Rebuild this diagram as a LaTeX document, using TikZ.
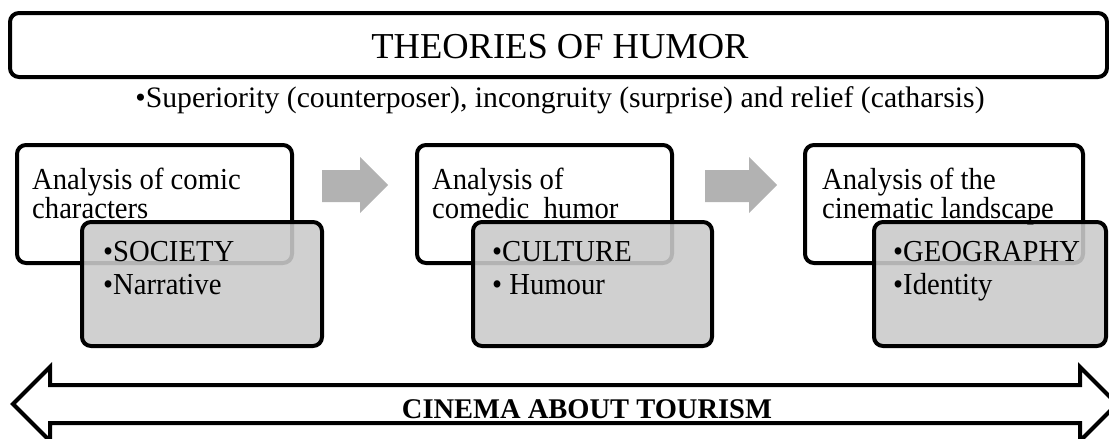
\documentclass[tikz,border=0pt]{standalone}
\usepackage{fontspec}
\setmainfont{Liberation Serif}
\newfontfamily\narrowserif{Liberation Serif}[FakeStretch=0.94]
\definecolor{boxgray}{RGB}{202,202,202}
\definecolor{arrowgray}{RGB}{178,178,178}
\begin{document}
\begin{tikzpicture}[x=1pt,y=-1pt,
  frame/.style={draw=black,line width=4pt,rounded corners=9pt,inner sep=0pt,outer sep=0pt,anchor=north west},
  whitebox/.style={frame,fill=white},
  graybox/.style={frame,fill=boxgray,fill opacity=0.89},
  flowarrow/.style={fill=arrowgray,draw=none},
  headtext/.style={inner sep=0pt,font=\fontsize{36.5}{40}\selectfont},
  subtext/.style={inner sep=0pt,anchor=base,font=\fontsize{29.7}{33}\selectfont},
  labeltext/.style={inner sep=0pt,anchor=north west,align=left,font=\narrowserif\fontsize{30.5}{26}\selectfont},
  bullettext/.style={inner sep=0pt,anchor=north west,align=left,font=\narrowserif\fontsize{30.5}{33}\selectfont},
  bandtext/.style={inner sep=0pt,anchor=base,font=\fontsize{28.5}{30}\selectfont\bfseries}
]
\useasboundingbox (0,0) rectangle (1109,439);

% title
\node[whitebox,minimum width=1097pt,minimum height=64pt] (title) at (10,13) {};
\node[headtext] (titletext) at (560,47) {THEORIES OF HUMOR};
\node[subtext] (sub) at (560,107) {•Superiority (counterposer), incongruity (surprise) and relief (catharsis)};

% white boxes
\node[whitebox,minimum width=275pt,minimum height=118pt] (w1) at (17,145) {};
\node[whitebox,minimum width=255pt,minimum height=118pt] (w2) at (417,145) {};
\node[whitebox,minimum width=278pt,minimum height=118pt] (w3) at (805,145) {};

% gray boxes
\node[graybox,minimum width=240pt,minimum height=124pt] (g1) at (82,222) {};
\node[graybox,minimum width=239pt,minimum height=124pt] (g2) at (473,222) {};
\node[graybox,minimum width=232pt,minimum height=124pt] (g3) at (874,222) {};

% texts
\node[labeltext] (l1) at (32,168) {Analysis of comic\\characters};
\node[labeltext] (l2) at (432,168) {Analysis of\\comedic\ \ humor};
\node[labeltext] (l3) at (822,168) {Analysis of the\\cinematic landscape};
\node[bullettext] (b1) at (103,241) {•SOCIETY\\•Narrative};
\node[bullettext] (b2) at (492,241) {•CULTURE\\• Humour};
\node[bullettext] (b3) at (893,241) {•GEOGRAPHY\\•Identity};

% gray flow arrows
\fill[flowarrow] (322,170) -- (360,170) -- (360,157) -- (388,185) -- (360,213) -- (360,202) -- (322,202) -- cycle;
\fill[flowarrow] (705,170) -- (749,170) -- (749,157) -- (777,185) -- (749,213) -- (749,202) -- (705,202) -- cycle;

% double arrow band
\draw[line width=4pt,fill=white,line join=miter]
  (13,404) -- (50,367) -- (50,385) -- (1080,385) -- (1080,367) -- (1117,404)
  -- (1080,441) -- (1080,423) -- (50,423) -- (50,441) -- cycle;
\node[bandtext] (band) at (587,418) {CINEMA ABOUT TOURISM};
\end{tikzpicture}
\end{document}
